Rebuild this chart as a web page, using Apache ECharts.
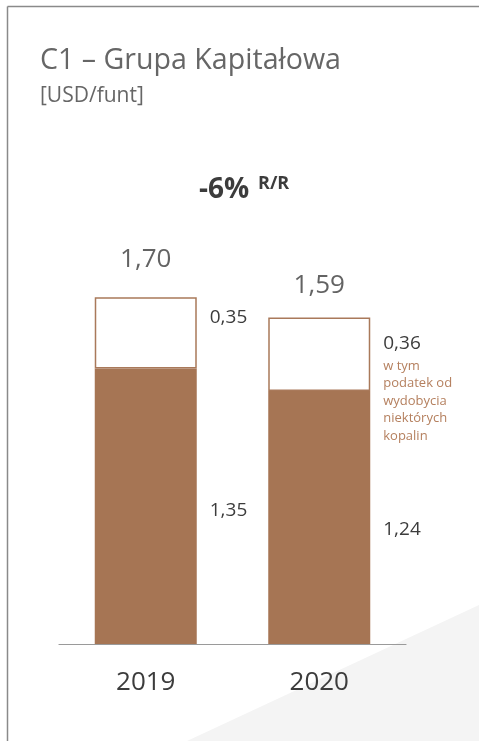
<!DOCTYPE html>
<html>
<head>
<meta charset="utf-8">
<script src="https://cdn.jsdelivr.net/npm/echarts@6/dist/echarts.min.js"></script>
<style>
  html, body { margin: 0; padding: 0; background: #fff; }
  #main { width: 479px; height: 741px; }
</style>
</head>
<body>
<div id="main"></div>
<script>
// data
const years = ["2019", "2020"];
const baseCost = [1.35, 1.24];
const taxPart = [0.35, 0.36];
const totals = [1.70, 1.59];
const changeText = "-6%";
const changeSuffix = "R/R";
const noteLines = ["w tym", "podatek od", "wydobycia", "niektórych", "kopalin"];

// label tweaks (pixels), kept apart from the data
const baseLabelY = [130, 127];
const taxLabelY = [6, 12];
const totalGap = [23, 19];

const FONT = "Open Sans";
const TEXT = "#3c3c3c";
const BROWN = "#a67554";
const fmt = (v) => v.toFixed(2).replace(".", ",");

let chartDom = document.getElementById("main");
let myChart = echarts.init(chartDom);

let option = {
  animation: false,
  textStyle: { fontFamily: FONT },
  title: [
    {
      text: "C1 – Grupa Kapitałowa",
      subtext: "[USD/funt]",
      left: 40,
      top: 44,
      padding: 0,
      itemGap: 6,
      textStyle: { fontFamily: FONT, fontSize: 28.6, fontWeight: "normal", color: "#666", lineHeight: 34 },
      subtextStyle: { fontFamily: FONT, fontSize: 21, color: "#666", lineHeight: 24 },
    },
    {
      text: changeText,
      left: 199,
      top: 174,
      padding: 0,
      textStyle: { fontFamily: FONT, fontSize: 28, fontWeight: "bold", color: TEXT, lineHeight: 32 },
    },
    {
      text: changeSuffix,
      left: 258,
      top: 173,
      padding: 0,
      textStyle: { fontFamily: FONT, fontSize: 18, fontWeight: "bold", color: TEXT, lineHeight: 22 },
    },
  ],
  graphic: [
    {
      type: "polygon",
      z: 0,
      silent: true,
      shape: { points: [[187, 741], [479, 605], [479, 741]] },
      style: { fill: "#f4f4f4" },
    },
    {
      type: "line",
      silent: true,
      shape: { x1: 7.5, y1: 6.5, x2: 479, y2: 6.5 },
      style: { stroke: "#8a8a8a", lineWidth: 1.5 },
    },
    {
      type: "line",
      silent: true,
      shape: { x1: 7.5, y1: 6.5, x2: 7.5, y2: 741 },
      style: { stroke: "#8a8a8a", lineWidth: 1.5 },
    },
  ],
  grid: { left: 59, right: 73, top: 236, bottom: 97 },
  xAxis: {
    type: "category",
    data: years,
    axisLine: { lineStyle: { color: "#9a9a9a", width: 1.2 } },
    axisTick: { show: false },
    axisLabel: { fontFamily: FONT, fontSize: 26, color: TEXT, lineHeight: 30, margin: 24 },
  },
  yAxis: { type: "value", min: 0, max: 2, show: false, splitLine: { show: false } },
  series: [
    {
      name: "base",
      type: "bar",
      stack: "c1",
      barWidth: 102,
      itemStyle: { color: BROWN },
      data: baseCost.map((v, i) => ({
        value: v,
        label: {
          show: true,
          position: [115, baseLabelY[i]],
          formatter: fmt(v),
          fontFamily: FONT,
          fontSize: 19,
          lineHeight: 24,
          color: TEXT,
        },
      })),
    },
    {
      name: "tax",
      type: "bar",
      stack: "c1",
      barWidth: 102,
      itemStyle: { color: "#fff", borderColor: "#a9795a", borderWidth: 1.5 },
      data: taxPart.map((v, i) => ({
        value: v,
        label: {
          show: true,
          position: [115, taxLabelY[i]],
          formatter:
            i === 1
              ? "{v|" + fmt(v) + "}\n" + noteLines.map((s) => "{n|" + s + "}").join("\n")
              : "{v|" + fmt(v) + "}",
          rich: {
            v: { fontFamily: FONT, fontSize: 19, lineHeight: 28, color: TEXT },
            n: { fontFamily: FONT, fontSize: 13, lineHeight: 17.4, color: "#b5805f" },
          },
        },
      })),
    },
    {
      name: "total",
      type: "scatter",
      symbolSize: 0,
      z: 5,
      data: totals.map((v, i) => ({
        value: v,
        label: {
          show: true,
          position: "top",
          distance: totalGap[i],
          formatter: fmt(v),
          fontFamily: FONT,
          fontSize: 26,
          lineHeight: 30,
          color: TEXT,
        },
      })),
    },
  ],
};

option && myChart.setOption(option);
</script>
</body>
</html>
